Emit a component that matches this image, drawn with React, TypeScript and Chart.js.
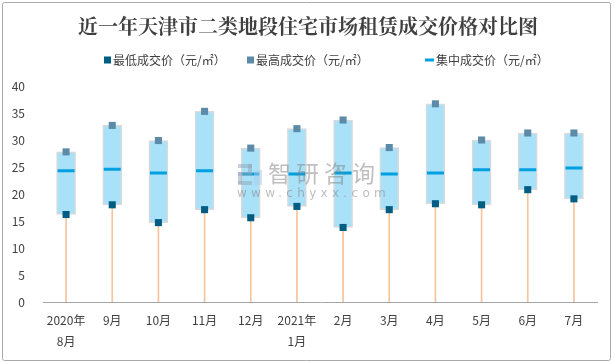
import React, { useEffect, useRef } from "react";
import { Chart, registerables } from "chart.js";

Chart.register(...registerables);

const TITLE = "近一年天津市二类地段住宅市场租赁成交价格对比图";
const categories: (string | string[])[] = [
  ["2020年", "8月"], "9月", "10月", "11月", "12月", ["2021年", "1月"],
  "2月", "3月", "4月", "5月", "6月", "7月",
];
const lowPrices = [16.2, 18.0, 14.7, 17.1, 15.6, 17.7, 13.8, 17.1, 18.2, 18.0, 20.8, 19.1];
const highPrices = [27.8, 32.7, 29.9, 35.3, 28.5, 32.1, 33.7, 28.6, 36.7, 30.0, 31.3, 31.3];
const midPrices = [24.3, 24.6, 23.9, 24.3, 23.7, 23.7, 23.9, 23.7, 23.9, 24.5, 24.5, 24.8];
const seriesNames = ["最低成交价（元/㎡）", "最高成交价（元/㎡）", "集中成交价（元/㎡）"];
const yTicks = [0, 5, 10, 15, 20, 25, 30, 35, 40];

const C_LOW = "#005E85";
const C_HIGH = "#5B8BA8";
const C_MID = "#00A0E0";
const C_BOX = "#A9E1F9";
const C_STEM = "#F6C49A";
const TEXT = "#404040";
const CJK = "'Noto Sans CJK SC', 'Noto Sans', sans-serif";

const decorPlugin = {
  id: "decor",
  beforeDraw(chart: any) {
    const ctx = chart.ctx;
    ctx.save();
    ctx.fillStyle = "#ffffff";
    ctx.fillRect(0, 0, chart.width, chart.height);
    ctx.strokeStyle = "#AAAAAA";
    ctx.lineWidth = 1;
    ctx.beginPath();
    (ctx as any).roundRect ? (ctx as any).roundRect(2.5, 2.5, 608, 358, 2) : ctx.rect(2.5, 2.5, 608, 358);
    ctx.stroke();
    // title
    ctx.fillStyle = TEXT;
    ctx.font = "bold 20px 'Noto Serif CJK SC', 'Noto Sans CJK SC', serif";
    ctx.textAlign = "center";
    ctx.textBaseline = "middle";
    ctx.fillText(TITLE, 308, 26);
    // legend
    ctx.font = "12px " + CJK;
    ctx.textAlign = "left";
    const ly = 60;
    const items = [
      { x: 104, kind: "rect", color: C_LOW },
      { x: 247, kind: "rect", color: C_HIGH },
      { x: 425, kind: "line", color: C_MID },
    ];
    items.forEach((it, i) => {
      ctx.fillStyle = it.color;
      if (it.kind === "rect") {
        ctx.fillRect(it.x, ly - 3.5, 7, 7);
        ctx.fillStyle = TEXT;
        ctx.fillText(seriesNames[i], it.x + 9, ly);
      } else {
        ctx.fillRect(it.x, ly - 1.5, 9, 3);
        ctx.fillStyle = TEXT;
        ctx.fillText(seriesNames[i], it.x + 11, ly);
      }
    });
    ctx.restore();
  },
  afterDatasetsDraw(chart: any) {
    const ctx = chart.ctx;
    ctx.save();
    ctx.globalAlpha = 0.5;
    // simple logo
    ctx.fillStyle = "#8FA3B8";
    ctx.fillRect(238, 164, 14, 4);
    ctx.fillRect(248, 164, 4, 10);
    ctx.fillRect(238, 172, 14, 4);
    ctx.fillRect(238, 172, 4, 12);
    ctx.fillRect(238, 181, 14, 4);
    ctx.fillStyle = "#A9CBE8";
    ctx.fillRect(254, 170, 8, 15);
    ctx.fillStyle = "#7F7F7F";
    ctx.font = "23px " + CJK;
    ctx.textAlign = "left";
    ctx.textBaseline = "middle";
    (ctx as any).letterSpacing = "5px";
    ctx.fillText("智研咨询", 268, 173);
    ctx.font = "12px 'DejaVu Sans', sans-serif";
    (ctx as any).letterSpacing = "4.3px";
    ctx.fillText("www.chyxx.com", 237, 194);
    ctx.restore();
  },
};

export default function App() {
  const ref = useRef<HTMLCanvasElement>(null);
  useEffect(() => {
    document.body.style.margin = "0";
    const boxes = lowPrices.map((l, i) => [l, highPrices[i]]);
    const chart = new Chart(ref.current as HTMLCanvasElement, {
      type: "bar",
      data: {
        labels: categories as any,
        datasets: [
          {
            type: "bar",
            data: lowPrices,
            backgroundColor: C_STEM,
            barThickness: 1,
            grouped: false,
            order: 5,
          } as any,
          {
            type: "bar",
            data: boxes as any,
            backgroundColor: C_BOX,
            borderColor: "#D9D9D9",
            borderWidth: 1.5,
            borderSkipped: false,
            barThickness: 19,
            grouped: false,
            order: 4,
          } as any,
          {
            type: "line",
            data: midPrices,
            showLine: false,
            pointStyle: "line",
            pointRadius: 8.5,
            pointHoverRadius: 8.5,
            pointBorderWidth: 3,
            pointBorderColor: C_MID,
            borderColor: C_MID,
            order: 3,
          } as any,
          {
            type: "line",
            data: lowPrices,
            showLine: false,
            pointStyle: "rect",
            pointRadius: 5,
            pointBorderWidth: 0,
            pointBackgroundColor: C_LOW,
            order: 2,
          } as any,
          {
            type: "line",
            data: highPrices,
            showLine: false,
            pointStyle: "rect",
            pointRadius: 5,
            pointBorderWidth: 0,
            pointBackgroundColor: C_HIGH,
            order: 1,
          } as any,
        ],
      },
      options: {
        responsive: false,
        animation: false,
        layout: { padding: { top: 86, right: 18, left: 0, bottom: 0 } },
        plugins: {
          legend: { display: false },
          title: { display: false },
          tooltip: { enabled: false },
        },
        scales: {
          x: {
            grid: { display: false, drawTicks: false },
            border: { display: true, color: "#A6A6A6", width: 1 },
            ticks: {
              color: TEXT,
              font: { family: CJK, size: 12, lineHeight: 1.75 },
              padding: 8,
              maxRotation: 0,
              autoSkip: false,
            },
            afterFit: (s: any) => { s.height = 61; },
          },
          y: {
            min: 0,
            max: 40,
            afterBuildTicks: (s: any) => { s.ticks = yTicks.map((v) => ({ value: v })); },
            grid: { display: false, drawTicks: false },
            border: { display: false },
            ticks: {
              color: TEXT,
              font: { family: CJK, size: 12 },
              padding: 18,
            },
            afterFit: (s: any) => { s.width = 43; },
          },
        },
      },
      plugins: [decorPlugin],
    });
    return () => chart.destroy();
  }, []);
  return <canvas ref={ref} width={615} height={363} style={{ display: "block" }} />;
}
